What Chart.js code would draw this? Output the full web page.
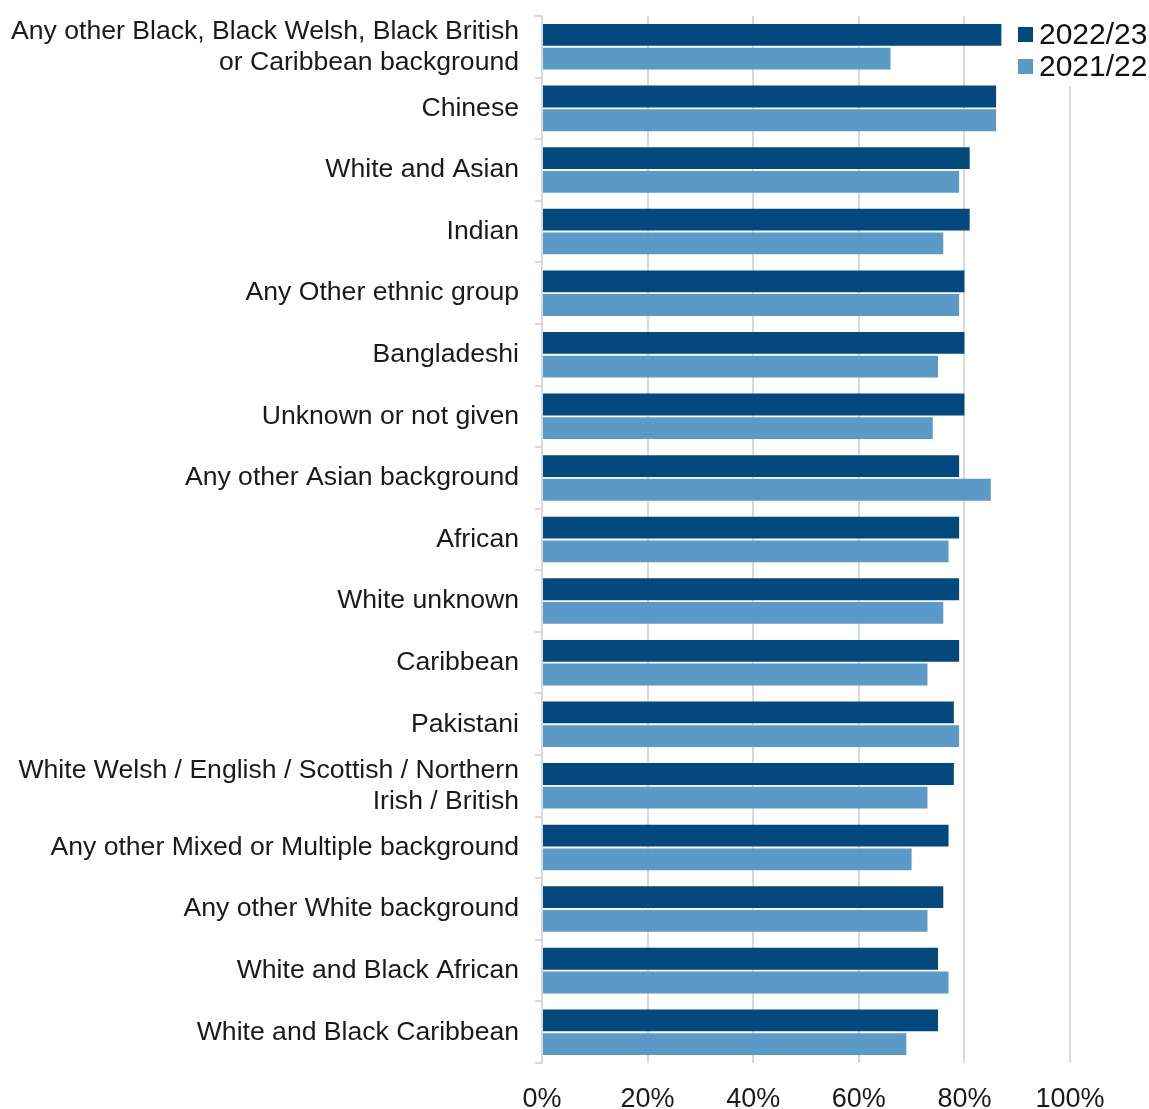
<!DOCTYPE html>
<html>
<head>
<meta charset="utf-8">
<script src="https://cdn.jsdelivr.net/npm/chart.js@4.4.0/dist/chart.umd.min.js"></script>
<style>
  html, body { margin: 0; padding: 0; background: #fff; }
  #wrap { width: 1149px; height: 1109px; }
</style>
</head>
<body>
<div id="wrap"><canvas id="chart"></canvas></div>
<script>
// categories, top to bottom
const categories = [
    ['Any other Black, Black Welsh, Black British', 'or Caribbean background'],
    'Chinese',
    'White and Asian',
    'Indian',
    'Any Other ethnic group',
    'Bangladeshi',
    'Unknown or not given',
    'Any other Asian background',
    'African',
    'White unknown',
    'Caribbean',
    'Pakistani',
    ['White Welsh / English / Scottish / Northern', 'Irish / British'],
    'Any other Mixed or Multiple background',
    'Any other White background',
    'White and Black African',
    'White and Black Caribbean'
];

const values2223 = [87, 86, 81, 81, 80, 80, 80, 79, 79, 79, 79, 78, 78, 77, 76, 75, 75];
const values2122 = [66, 86, 79, 76, 79, 75, 74, 85, 77, 76, 73, 79, 73, 70, 73, 77, 69];

const seriesNames = ['2022/23', '2021/22'];
const seriesColors = ['#03497D', '#5B9AC7'];

const xTicks = [0, 20, 40, 60, 80, 100];

const FONT = "'Liberation Sans', Arial, sans-serif";
const GRID = '#d9d9d9';

// legend sits on top of the plot, covering the 100% gridline
const overlayLegend = {
    id: 'overlayLegend',
    afterDraw(chart) {
        const ctx = chart.ctx;
        ctx.save();
        ctx.fillStyle = '#fff';
        ctx.fillRect(1012, 14, 137, 72);
        ctx.font = `30px ${FONT}`;
        ctx.textBaseline = 'middle';
        seriesNames.forEach((name, i) => {
            const y = 35 + i * 32;
            ctx.fillStyle = seriesColors[i];
            ctx.fillRect(1018, y - 8, 15, 15);
            ctx.fillStyle = '#111';
            ctx.fillText(name, 1039, y + 1);
        });
        ctx.restore();
    }
};

new Chart(document.getElementById('chart'), {
    type: 'bar',
    data: {
        labels: categories,
        datasets: [
            {
                label: seriesNames[0],
                data: values2223,
                backgroundColor: seriesColors[0]
            },
            {
                label: seriesNames[1],
                data: values2122,
                backgroundColor: seriesColors[1]
            }
        ]
    },
    options: {
        indexAxis: 'y',
        responsive: true,
        maintainAspectRatio: false,
        animation: false,
        barPercentage: 0.92,
        categoryPercentage: 0.77,
        layout: { padding: { top: 16, right: 79, left: 0, bottom: 0 } },
        plugins: {
            legend: { display: false },
            tooltip: { enabled: false }
        },
        scales: {
            x: {
                min: 0,
                max: 100,
                afterBuildTicks: (s) => { s.ticks = xTicks.map(v => ({ value: v })); },
                afterFit: (s) => { s.height = 46; },
                border: { display: false },
                grid: { color: GRID, lineWidth: 2, drawTicks: false },
                ticks: {
                    padding: 20,
                    color: '#1a1a1a',
                    font: { family: FONT, size: 27 },
                    callback: (v) => v + '%'
                }
            },
            y: {
                afterFit: (s) => {
                    s.width = 542;
                    s.paddingTop = 0;
                    s.paddingBottom = 0;
                },
                border: { display: true, color: GRID, width: 2 },
                grid: {
                    offset: true,
                    drawOnChartArea: false,
                    drawTicks: true,
                    tickLength: 7,
                    color: GRID,
                    lineWidth: 2
                },
                ticks: {
                    autoSkip: false,
                    padding: 16,
                    color: '#1a1a1a',
                    font: { family: FONT, size: 26.6, lineHeight: 1.17 }
                }
            }
        }
    },
    plugins: [overlayLegend]
});
</script>
</body>
</html>
